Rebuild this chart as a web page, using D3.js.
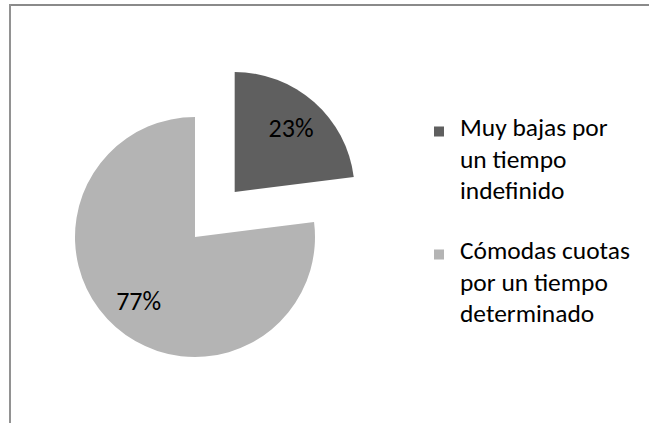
<!DOCTYPE html>
<html>
<head>
<meta charset="utf-8">
<script src="https://cdn.jsdelivr.net/npm/d3@7"></script>
<style>
  html, body { margin: 0; padding: 0; background: #fff; }
  svg { display: block; }
  text { font-family: Carlito, Calibri, Lato, "Open Sans", sans-serif; fill: #000; }
</style>
</head>
<body>
<svg id="chart" width="649" height="423"></svg>
<script>
// Category labels (wrapped into lines) and their shares
const categories = [
  ["Muy bajas por", "un tiempo", "indefinido"],
  ["Cómodas cuotas", "por un tiempo", "determinado"]
];
const values = [23, 77];
const percentLabels = ["23%", "77%"];
const colors = ["#5f5f5f", "#b4b4b4"];

const width = 649, height = 423;
const svg = d3.select("#chart");

// Chart frame: top and left edges only
svg.append("line").attr("x1", 9).attr("y1", 5).attr("x2", width).attr("y2", 5)
  .attr("stroke", "#8a8a8a").attr("stroke-width", 2);
svg.append("line").attr("x1", 10).attr("y1", 4).attr("x2", 10).attr("y2", height)
  .attr("stroke", "#929292").attr("stroke-width", 2);

// Pie layout, clockwise from 12 o'clock in data order
const pie = d3.pie().sort(null).value(d => d)
  .startAngle(0).endAngle(2 * Math.PI);
const arcs = pie(values);

const cx = 195, cy = 237, radius = 120;
const explode = [60, 0];          // first slice pulled out
const arc = d3.arc().innerRadius(0).outerRadius(radius);
const labelArc = d3.arc().innerRadius(radius * 0.71).outerRadius(radius * 0.71);

const g = svg.append("g").attr("transform", `translate(${cx},${cy})`);

const slices = g.selectAll("g.slice").data(arcs).join("g")
  .attr("class", "slice")
  .attr("transform", (d, i) => {
    const a = (d.startAngle + d.endAngle) / 2;
    return `translate(${Math.sin(a) * explode[i]},${-Math.cos(a) * explode[i]})`;
  });

slices.append("path")
  .attr("d", arc)
  .attr("fill", (d, i) => colors[i]);

const pctText = slices.append("text")
  .attr("transform", d => `translate(${labelArc.centroid(d)})`)
  .attr("text-anchor", "middle")
  .attr("dy", "0.35em")
  .text((d, i) => percentLabels[i]);

// Size the percent labels so "23%" spans about 45px
pctText.attr("font-size", 26);
const pw = pctText.node().getComputedTextLength();
pctText.attr("font-size", 26 * 45 / pw);

// Legend
const legendX = 434, textX = 460;
const firstBaselines = [136, 259];
const lineStep = 31.5;

const legend = svg.append("g");
const entries = legend.selectAll("g").data(categories).join("g");

entries.append("rect")
  .attr("x", legendX)
  .attr("y", (d, i) => firstBaselines[i] - 9.5)
  .attr("width", 10).attr("height", 10)
  .attr("fill", (d, i) => colors[i]);

const legendText = entries.append("text")
  .attr("x", textX)
  .attr("y", (d, i) => firstBaselines[i]);

legendText.selectAll("tspan").data(d => d).join("tspan")
  .attr("x", textX)
  .attr("dy", (d, j) => j === 0 ? 0 : lineStep)
  .text(d => d);

// Size legend text so the widest line spans about 170px
legendText.attr("font-size", 25);
const probe = legend.append("text").attr("font-size", 25).text(categories[1][0]);
const lw = probe.node().getComputedTextLength();
probe.remove();
legendText.attr("font-size", 25 * 170 / lw);
</script>
</body>
</html>
